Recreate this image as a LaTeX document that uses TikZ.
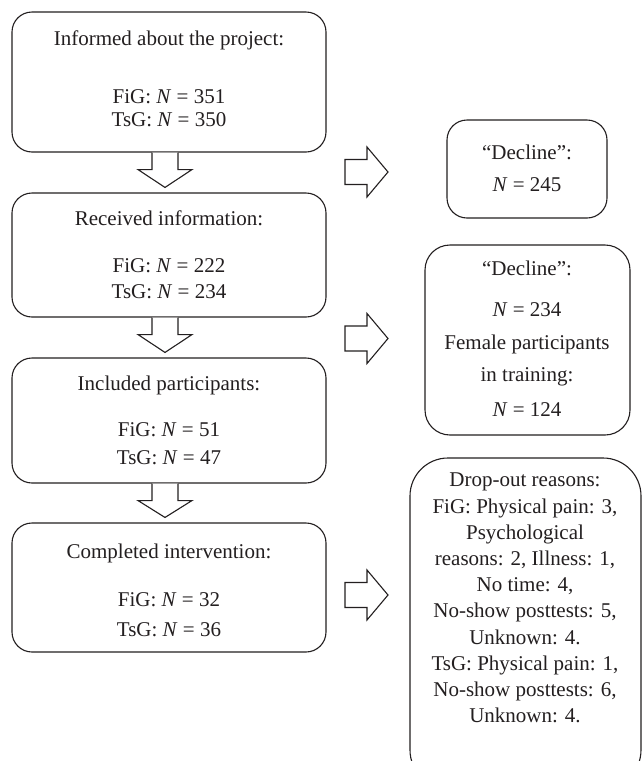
\documentclass[tikz,border=0pt]{standalone}
\usepackage{fontspec}
\setmainfont{Liberation Serif}
\usetikzlibrary{calc}
\definecolor{ink}{HTML}{231F20}
\tikzset{
  x=1pt, y=-1pt,
  box/.style={draw=ink, line width=1.1pt, rounded corners=20pt, inner sep=0pt},
  txt/.style={text=ink, font=\fontsize{21}{23}\selectfont, inner sep=0pt, align=center},
  blockarrow/.style={draw=ink, line width=1.1pt, line join=miter, fill=white}
}
\newcommand{\Nv}{\textit{N}}
\begin{document}
\begin{tikzpicture}
\clip (0,0) rectangle (643,761);
\fill[white] (0,0) rectangle (643,761);

% left column boxes
\node[box, minimum width=314pt, minimum height=140pt] (b1) at (169,82) {};
\node[box, minimum width=314pt, minimum height=124pt] (b2) at (169,255) {};
\node[box, minimum width=314pt, minimum height=125pt] (b3) at (169,420.5) {};
\node[box, minimum width=314pt, minimum height=129pt] (b4) at (169,587.5) {};

\node[txt] (t1a) at (169,40) {Informed about the project:};
\node[txt] (t1b) at (169,97) {FiG: \Nv{} = 351};
\node[txt] (t1c) at (169,120) {TsG: \Nv{} = 350};

\node[txt] (t2a) at (169,218) {Received information:};
\node[txt] (t2b) at (169,266) {FiG: \Nv{} = 222};
\node[txt] (t2c) at (169,292) {TsG: \Nv{} = 234};

\node[txt] (t3a) at (169,385) {Included participants:};
\node[txt] (t3b) at (169,430) {FiG: \Nv{} = 51};
\node[txt] (t3c) at (169,458) {TsG: \Nv{} = 47};

\node[txt] (t4a) at (169,553) {Completed intervention:};
\node[txt] (t4b) at (169,600) {FiG: \Nv{} = 32};
\node[txt] (t4c) at (169,630) {TsG: \Nv{} = 36};

% right column boxes
\node[box, minimum width=160pt, minimum height=98pt] (r1) at (527,169) {};
\node[txt] (r1a) at (527,152) {“Decline”:};
\node[txt] (r1b) at (527,185) {\Nv{} = 245};

\node[box, rounded corners=25pt, minimum width=205pt, minimum height=190pt] (r2) at (527.5,340) {};
\node[txt] (r2a) at (527,268) {“Decline”:};
\node[txt] (r2b) at (527,310) {\Nv{} = 234};
\node[txt] (r2c) at (527,344) {Female participants};
\node[txt] (r2d) at (527,377) {in training:};
\node[txt] (r2e) at (527,410) {\Nv{} = 124};

\node[box, rounded corners=38pt, minimum width=231pt, minimum height=330pt] (r3) at (525.5,623) {};
\node[txt, font=\fontsize{21}{26.2}\selectfont, anchor=north] (r3t) at (525,473) {Drop-out reasons:\\FiG: Physical pain: 3,\\Psychological\\reasons: 2, Illness: 1,\\No time: 4,\\No-show posttests: 5,\\Unknown: 4.\\TsG: Physical pain: 1,\\No-show posttests: 6,\\Unknown: 4.};

% down block arrows
\foreach \s/\t in {b1/b2, b2/b3, b3/b4}{
  \draw[blockarrow] ($(\s.south)+(-17,0)$) -- ++(0,17) -- ++(-14,0)
     -- ($(\t.north)+(-4,-5)$) -- ($(\s.south)+(23,17)$) -- ++(-14,0) -- ($(\s.south)+(9,0)$);
}

% right block arrows
\coordinate (c1) at (345,172);
\coordinate (c2) at (345,338.5);
\coordinate (c3) at (345,595);
\foreach \c in {c1,c2,c3}{
  \draw[blockarrow] ($(\c)+(0,-12.5)$) -- ++(22,0) -- ++(0,-12.5) -- ++(21,25)
     -- ++(-21,25) -- ++(0,-12.5) -- ++(-22,0) -- cycle;
}
\end{tikzpicture}
\end{document}
